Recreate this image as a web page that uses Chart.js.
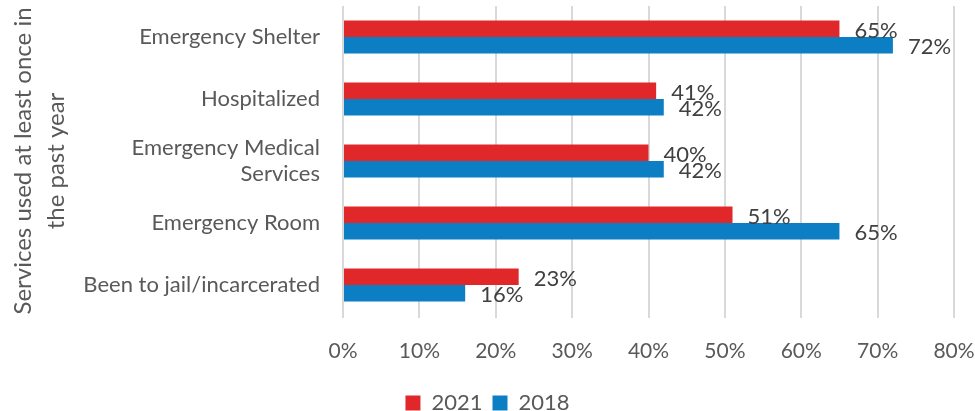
<!DOCTYPE html>
<html>
<head>
<meta charset="utf-8">
<script src="https://cdn.jsdelivr.net/npm/chart.js@4/dist/chart.umd.min.js"></script>
<style>
  html, body { margin: 0; padding: 0; background: #fff; }
  #wrap { width: 975px; height: 411px; }
</style>
</head>
<body>
<div id="wrap"><canvas id="servicesChart" width="975" height="411"></canvas></div>
<script>
const categories = ["Emergency Shelter", "Hospitalized", ["Emergency Medical", "Services"], "Emergency Room", "Been to jail/incarcerated"]
const values2021 = [65, 41, 40, 51, 23]
const values2018 = [72, 42, 42, 65, 16]
const xTicks = [0, 10, 20, 30, 40, 50, 60, 70, 80]

const fontFamily = "Lato, 'Open Sans', sans-serif"

// draws the "65%" style labels at the end of each bar
const barLabels = {
    id: "barLabels",
    afterDatasetsDraw(chart) {
        const ctx = chart.ctx
        ctx.save()
        ctx.font = "22px " + fontFamily
        ctx.fillStyle = "#404040"
        ctx.textBaseline = "middle"
        ctx.textAlign = "left"
        chart.data.datasets.forEach((ds, i) => {
            chart.getDatasetMeta(i).data.forEach((bar, j) => {
                ctx.fillText(ds.data[j] + "%", bar.x + 15, bar.y + 2)
            })
        })
        ctx.restore()
    }
}

const chart = new Chart("servicesChart", {
    type: "bar",
    data: {
        labels: categories,
        datasets: [{
            label: "2021",
            data: values2021,
            backgroundColor: "#E0282A",
            categoryPercentage: 0.53,
            barPercentage: 1
        }, {
            label: "2018",
            data: values2018,
            backgroundColor: "#0B7EC4",
            categoryPercentage: 0.53,
            barPercentage: 1
        }]
    },
    options: {
        indexAxis: "y",
        responsive: false,
        animation: false,
        layout: { padding: { top: 6, right: 2, left: 2, bottom: -13 } },
        scales: {
            x: {
                min: 0,
                max: 80,
                afterBuildTicks: axis => { axis.ticks = xTicks.map(v => ({ value: v })) },
                afterFit: axis => {
                    axis.paddingRight = 21
                    axis.height = 66
                },
                ticks: {
                    callback: v => v + "%",
                    color: "#595959",
                    font: { size: 21, family: fontFamily },
                    padding: 21
                },
                grid: { color: "#D9D9D9", lineWidth: 2, tickLength: 2 },
                border: { display: false }
            },
            y: {
                afterFit: axis => {
                    axis.width = 341
                    axis.paddingTop = 0
                    axis.paddingBottom = 0
                },
                ticks: {
                    color: "#595959",
                    font: { size: 22, family: fontFamily },
                    padding: 15
                },
                grid: { display: false },
                border: { display: false },
                title: {
                    display: true,
                    text: ["Services used at least once in", "the past year"],
                    color: "#595959",
                    font: { size: 24, family: fontFamily, lineHeight: 1.4 },
                    padding: { top: 4, bottom: 0 }
                }
            }
        },
        plugins: {
            legend: {
                position: "bottom",
                labels: {
                    color: "#595959",
                    font: { size: 22, family: fontFamily },
                    boxWidth: 15,
                    boxHeight: 15,
                    padding: 10
                }
            },
            tooltip: { enabled: false }
        }
    },
    plugins: [barLabels]
})
</script>
</body>
</html>
